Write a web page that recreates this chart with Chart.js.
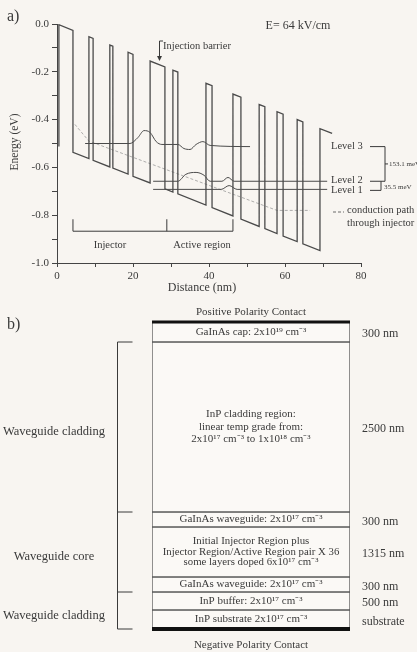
<!DOCTYPE html>
<html>
<head>
<meta charset="utf-8">
<script src="https://cdn.jsdelivr.net/npm/chart.js@4.4.1/dist/chart.umd.min.js"></script>
<style>
  html, body { margin: 0; padding: 0; background: #f8f5f1; }
  canvas { position: absolute; left: 0; }
  #bandChart { top: 0; }
  #layerChart { top: 300px; }
</style>
</head>
<body>
<canvas id="bandChart" width="417" height="300"></canvas>
<canvas id="layerChart" width="417" height="352"></canvas>
<script>
// ---- a) conduction band profile, E = 64 kV/cm ----
const bandX = [0.5, 0.5, 4.2, 4.2, 8.4, 8.4, 9.5, 9.5, 13.9, 13.9, 14.7, 14.7, 18.7, 18.7, 20.0, 20.0,
  24.5, 24.5, 28.4, 28.4, 30.5, 30.5, 31.8, 31.8, 39.2, 39.2, 40.8, 40.8, 46.3, 46.3, 48.4, 48.4,
  53.2, 53.2, 54.7, 54.7, 57.9, 57.9, 59.5, 59.5, 63.2, 63.2, 64.7, 64.7, 69.2, 69.2, 72.4];
const bandE = [-0.513, -0.003, -0.027, -0.537, -0.563, -0.053, -0.060, -0.570, -0.598, -0.088, -0.093, -0.603,
  -0.628, -0.118, -0.127, -0.637, -0.665, -0.155, -0.180, -0.690, -0.703, -0.193, -0.201, -0.711,
  -0.758, -0.248, -0.258, -0.768, -0.803, -0.293, -0.306, -0.816, -0.847, -0.337, -0.346, -0.856,
  -0.877, -0.367, -0.377, -0.887, -0.910, -0.400, -0.410, -0.920, -0.948, -0.438, -0.458];

const level3X = [7.4, 19.2, 21.3, 22.9, 24.5, 26.1, 27.6, 31.8, 33.4, 35.0, 36.6, 38.4, 40.3, 50.8];
const level3E = [-0.500, -0.500, -0.475, -0.446, -0.454, -0.492, -0.504, -0.504, -0.521, -0.525, -0.504, -0.492, -0.508, -0.513];
const level2X = [25.3, 31.8, 33.9, 36.6, 38.7, 40.3, 43.4, 45.0, 46.6, 71.1];
const level2E = [-0.658, -0.658, -0.629, -0.621, -0.633, -0.658, -0.658, -0.642, -0.658, -0.658];
const level1X = [25.3, 43.2, 45.3, 47.4, 71.1];
const level1E = [-0.692, -0.692, -0.676, -0.692, -0.692];
const pathX = [4.7, 8.4, 57.9, 66.6];
const pathE = [-0.42, -0.49, -0.78, -0.78];

const xTicks = [0, 20, 40, 60, 80];
const yTicks = [0.0, -0.2, -0.4, -0.6, -0.8, -1.0];

// ---- b) layer stack ----
const layerNames = [
  ['GaInAs cap: 2x10¹⁹ cm⁻³'],
  ['InP cladding region:', 'linear temp grade from:', '2x10¹⁷ cm⁻³ to 1x10¹⁸ cm⁻³'],
  ['GaInAs waveguide: 2x10¹⁷ cm⁻³'],
  ['Initial Injector Region plus', 'Injector Region/Active Region pair X 36', 'some layers doped 6x10¹⁷ cm⁻³'],
  ['GaInAs waveguide: 2x10¹⁷ cm⁻³'],
  ['InP buffer: 2x10¹⁷ cm⁻³'],
  ['InP substrate 2x10¹⁷ cm⁻³']
];
const layerThickness = ['300 nm', '2500 nm', '300 nm', '1315 nm', '300 nm', '500 nm', 'substrate'];
const layerHeights = [20, 170, 15, 50, 15, 18, 19]; // drawn (schematic) heights
const regionNames = ['Waveguide cladding', 'Waveguide core', 'Waveguide cladding'];
const regionLayers = [[1, 2], [2, 5], [5, 7]]; // layer index ranges for each bracket

const ink = '#3a3a3a';
const serif = 'Liberation Serif';
Chart.defaults.font.family = serif;
Chart.defaults.color = ink;

function pts(xs, ys) {
  return xs.map((x, i) => ({ x: x, y: ys[i] }));
}

function text(ctx, str, x, y, size, align) {
  ctx.font = size + 'px "' + serif + '"';
  ctx.textAlign = align || 'left';
  ctx.textBaseline = 'middle';
  ctx.fillText(str, x, y);
}

function line(ctx, coords) {
  ctx.beginPath();
  ctx.moveTo(coords[0], coords[1]);
  for (let i = 2; i < coords.length; i += 2) ctx.lineTo(coords[i], coords[i + 1]);
  ctx.stroke();
}

const bandNotes = {
  id: 'bandNotes',
  afterDraw(chart) {
    const { ctx, scales: { x, y } } = chart;
    ctx.save();
    ctx.fillStyle = ink;
    ctx.strokeStyle = ink;
    ctx.lineWidth = 1;

    text(ctx, 'a)', 7, 17, 16);
    text(ctx, 'E= 64 kV/cm', 298, 26, 12, 'center');
    text(ctx, 'Distance (nm)', 202, 288, 12, 'center');
    ctx.save();
    ctx.translate(15, 142);
    ctx.rotate(-Math.PI / 2);
    text(ctx, 'Energy (eV)', 0, 0, 11.5, 'center');
    ctx.restore();

    // injection barrier pointer
    text(ctx, 'Injection barrier', 163, 46, 10.5);
    line(ctx, [163, 41, 159.5, 41, 159.5, 57]);
    ctx.beginPath();
    ctx.moveTo(157, 56); ctx.lineTo(162, 56); ctx.lineTo(159.5, 61); ctx.closePath();
    ctx.fill();

    // injector / active region bracket
    const by = y.getPixelForValue(-0.867), bt = y.getPixelForValue(-0.817);
    const bx = [4.2, 28.9, 46.3].map(v => x.getPixelForValue(v));
    line(ctx, [bx[0], by, bx[2], by]);
    bx.forEach(px => line(ctx, [px, by, px, bt]));
    text(ctx, 'Injector', 110, by + 14, 10.5, 'center');
    text(ctx, 'Active region', 202, by + 14, 10.5, 'center');

    // level labels and spacing brackets
    const y3 = y.getPixelForValue(-0.513), y2 = y.getPixelForValue(-0.658), y1 = y.getPixelForValue(-0.692);
    text(ctx, 'Level 3', 331, y3, 10.5);
    text(ctx, 'Level 2', 331, y2 - 1, 10.5);
    text(ctx, 'Level 1', 331, y1 + 1, 10.5);
    line(ctx, [370, y3, 385, y3, 385, y2, 370, y2]);
    line(ctx, [385, (y3 + y2) / 2, 388, (y3 + y2) / 2]);
    line(ctx, [370, y1 + 1, 381, y1 + 1, 381, y2]);
    text(ctx, '153.1 meV', 389, (y3 + y2) / 2, 7);
    text(ctx, '35.5 meV', 384, (y2 + y1) / 2 + 2, 7);

    // conduction path legend
    ctx.strokeStyle = '#6a6a6a';
    ctx.setLineDash([3, 2]);
    line(ctx, [333, 212, 344, 212]);
    ctx.setLineDash([]);
    text(ctx, 'conduction path', 347, 210, 10.5);
    text(ctx, 'through injector', 347, 223, 10.5);
    ctx.restore();
  }
};

const lineStyle = { showLine: true, pointRadius: 0, borderColor: '#4a4a4a', borderWidth: 1, fill: false };

new Chart(document.getElementById('bandChart'), {
  type: 'scatter',
  data: {
    datasets: [
      { ...lineStyle, label: 'Conduction band', data: pts(bandX, bandE), borderWidth: 1.3, tension: 0 },
      { ...lineStyle, label: 'Level 3', data: pts(level3X, level3E), cubicInterpolationMode: 'monotone' },
      { ...lineStyle, label: 'Level 2', data: pts(level2X, level2E), cubicInterpolationMode: 'monotone' },
      { ...lineStyle, label: 'Level 1', data: pts(level1X, level1E), cubicInterpolationMode: 'monotone' },
      { ...lineStyle, label: 'conduction path through injector', data: pts(pathX, pathE),
        borderColor: '#9a9a9a', borderWidth: 0.8, borderDash: [3, 2] }
    ]
  },
  options: {
    responsive: false,
    animation: false,
    layout: { padding: { top: 24, right: 56, left: 0, bottom: 0 } },
    plugins: { legend: { display: false }, tooltip: { enabled: false } },
    scales: {
      x: {
        type: 'linear', min: 0, max: 80,
        ticks: {
          stepSize: 10, autoSkip: false, maxRotation: 0, padding: 3,
          font: { size: 11 }, color: ink,
          callback: v => (xTicks.includes(v) ? String(v) : '')
        },
        grid: { drawOnChartArea: false, tickLength: 4, color: '#444' },
        border: { color: '#444', width: 1 },
        afterFit: s => { s.height = 37; }
      },
      y: {
        type: 'linear', min: -1.0, max: 0.0,
        ticks: {
          stepSize: 0.1, autoSkip: false, padding: 3,
          font: { size: 11 }, color: ink,
          callback: v => (yTicks.some(t => Math.abs(t - v) < 1e-6) ? v.toFixed(1) : '')
        },
        grid: { drawOnChartArea: false, tickLength: 5, color: '#444' },
        border: { color: '#444', width: 1 },
        afterFit: s => { s.width = 57; }
      }
    }
  },
  plugins: [bandNotes]
});

const layerNotes = {
  id: 'layerNotes',
  afterDraw(chart) {
    const { ctx, chartArea: a, scales: { y } } = chart;
    const bounds = [0];
    layerHeights.forEach(h => bounds.push(bounds[bounds.length - 1] + h));
    const py = bounds.map(v => y.getPixelForValue(v));
    const cx = (a.left + a.right) / 2;
    ctx.save();
    ctx.fillStyle = ink;
    ctx.strokeStyle = '#111';

    text(ctx, 'b)', 7, 25, 16);
    text(ctx, 'Positive Polarity Contact', cx, py[0] - 10, 11, 'center');
    text(ctx, 'Negative Polarity Contact', cx, py[py.length - 1] + 16, 11, 'center');
    ctx.lineWidth = 3;
    line(ctx, [a.left, py[0], a.right, py[0]]);
    ctx.lineWidth = 4;
    line(ctx, [a.left, py[py.length - 1], a.right, py[py.length - 1]]);

    layerNames.forEach((rows, i) => {
      const mid = (py[i] + py[i + 1]) / 2;
      const step = i === 1 ? 12.5 : 10.5;
      rows.forEach((r, k) => {
        text(ctx, r, cx, mid + (k - (rows.length - 1) / 2) * step, i === 3 ? 10.8 : 11, 'center');
      });
      text(ctx, layerThickness[i], a.right + 12, mid + 2, 12);
    });

    ctx.strokeStyle = ink;
    ctx.lineWidth = 1;
    const bx = 117.5;
    line(ctx, [bx, py[1], bx, py[7]]);
    [1, 2, 5, 7].forEach(k => line(ctx, [bx, py[k], bx + 15, py[k]]));
    regionNames.forEach((n, i) => {
      const [s, e] = regionLayers[i];
      text(ctx, n, 54, (py[s] + py[e]) / 2 + 5, 12.5, 'center');
    });
    ctx.restore();
  }
};

new Chart(document.getElementById('layerChart'), {
  type: 'bar',
  data: {
    labels: [''],
    datasets: layerNames.map((rows, i) => ({
      label: rows.join(' '),
      data: [layerHeights[i]],
      backgroundColor: '#fbf9f6',
      borderColor: '#5a5a5a',
      borderWidth: 1,
      borderSkipped: false,
      barPercentage: 1,
      categoryPercentage: 1
    }))
  },
  options: {
    responsive: false,
    animation: false,
    layout: { padding: { left: 152, right: 67, top: 22, bottom: 23 } },
    plugins: { legend: { display: false }, tooltip: { enabled: false } },
    scales: {
      x: { display: false, stacked: true },
      y: { display: false, stacked: true, reverse: true, min: 0, max: layerHeights.reduce((s, h) => s + h, 0) }
    }
  },
  plugins: [layerNotes]
});
</script>
</body>
</html>
